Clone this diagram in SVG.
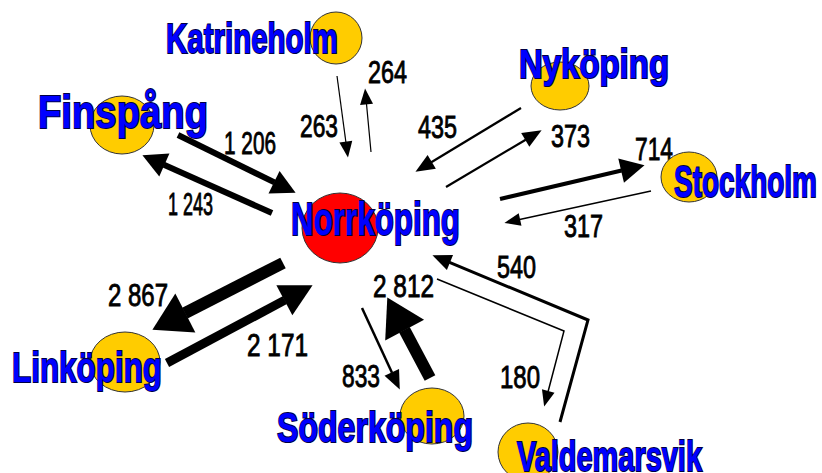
<svg xmlns="http://www.w3.org/2000/svg" width="822" height="473" viewBox="0 0 822 473">
<style>
.bg{fill:#fff}
.city{fill:#ffcc00;stroke:#333;stroke-width:1}
.hub{fill:#ff0000;stroke:#333;stroke-width:1}
.lbl{font-family:"Liberation Sans",Arial,sans-serif;font-weight:bold;fill:#0000ff;stroke:#000044;stroke-width:2;paint-order:stroke}
.num{font-family:"Liberation Sans",Arial,sans-serif;font-size:32px;fill:#000;stroke:#000;stroke-width:0.9}
.ln{fill:none;stroke:#000;stroke-linejoin:miter;stroke-linecap:butt}
</style>
<defs>
<marker id="a1" markerUnits="userSpaceOnUse" markerWidth="16" markerHeight="13" refX="0.5" refY="6.5" orient="auto" overflow="visible"><path d="M0,0 L16,6.5 L0,13 z" fill="#000"/></marker>
<marker id="a2" markerUnits="userSpaceOnUse" markerWidth="19" markerHeight="16" refX="0.5" refY="8" orient="auto" overflow="visible"><path d="M0,0 L19,8 L0,16 z" fill="#000"/></marker>
<marker id="a3" markerUnits="userSpaceOnUse" markerWidth="24" markerHeight="25" refX="0.5" refY="12.5" orient="auto" overflow="visible"><path d="M0,0 L24,12.5 L0,25 z" fill="#000"/></marker>
<marker id="a4" markerUnits="userSpaceOnUse" markerWidth="32" markerHeight="34" refX="0.5" refY="17" orient="auto" overflow="visible"><path d="M0,0 L32,17 L0,34 z" fill="#000"/></marker>
<marker id="a5" markerUnits="userSpaceOnUse" markerWidth="37" markerHeight="44" refX="0.5" refY="22" orient="auto" overflow="visible"><path d="M0,0 L37,22 L0,44 z" fill="#000"/></marker>
</defs>
<rect class="bg" x="0" y="0" width="822" height="473"/>
<g id="connectors">
<path class="ln" d="M337,76 L345.9,142.1" stroke-width="1.2" marker-end="url(#a1)"/>
<path class="ln" d="M371,152 L366.5,103.9" stroke-width="1.2" marker-end="url(#a1)"/>
<path class="ln" d="M178,135 L274.5,182.4" stroke-width="6" marker-end="url(#a3)"/>
<path class="ln" d="M272,213 L163.9,164.8" stroke-width="6" marker-end="url(#a3)"/>
<path class="ln" d="M521,108 L431.3,162.2" stroke-width="2.2" marker-end="url(#a2)"/>
<path class="ln" d="M446,187 L525.7,139.7" stroke-width="2.2" marker-end="url(#a2)"/>
<path class="ln" d="M500,199 L621.6,170.5" stroke-width="4" marker-end="url(#a3)"/>
<path class="ln" d="M651,191 L519.6,219.6" stroke-width="1.5" marker-end="url(#a1)"/>
<path class="ln" d="M283,263 L184.9,313.2" stroke-width="12" marker-end="url(#a5)"/>
<path class="ln" d="M167,363 L284.8,300.1" stroke-width="9" marker-end="url(#a4)"/>
<path class="ln" d="M430,378 L404.4,329.7" stroke-width="12" marker-end="url(#a5)"/>
<path class="ln" d="M362,308 L392,372.8" stroke-width="2.5" marker-end="url(#a2)"/>
<path class="ln" d="M560,422 L588,320 L449.5,262.3" stroke-width="3" marker-end="url(#a2)"/>
<path class="ln" d="M437,279 L564,331 L548.1,391.5" stroke-width="1.5" marker-end="url(#a1)"/>
</g>
<g id="labels">
<text class="num" x="368" y="83" textLength="39" lengthAdjust="spacingAndGlyphs">264</text>
<text class="num" x="300" y="137" textLength="38" lengthAdjust="spacingAndGlyphs">263</text>
<text class="num" x="224" y="154" textLength="52" lengthAdjust="spacingAndGlyphs">1 206</text>
<text class="num" x="168" y="215" textLength="45" lengthAdjust="spacingAndGlyphs">1 243</text>
<text class="num" x="418" y="138" textLength="39" lengthAdjust="spacingAndGlyphs">435</text>
<text class="num" x="551" y="147" textLength="39" lengthAdjust="spacingAndGlyphs">373</text>
<text class="num" x="635" y="160" textLength="38" lengthAdjust="spacingAndGlyphs">714</text>
<text class="num" x="564" y="237" textLength="39" lengthAdjust="spacingAndGlyphs">317</text>
<text class="num" x="108" y="306" textLength="60" lengthAdjust="spacingAndGlyphs">2 867</text>
<text class="num" x="247" y="356" textLength="61" lengthAdjust="spacingAndGlyphs">2 171</text>
<text class="num" x="373" y="297" textLength="61" lengthAdjust="spacingAndGlyphs">2 812</text>
<text class="num" x="342" y="387" textLength="38" lengthAdjust="spacingAndGlyphs">833</text>
<text class="num" x="497" y="278" textLength="39" lengthAdjust="spacingAndGlyphs">540</text>
<text class="num" x="500" y="388" textLength="40" lengthAdjust="spacingAndGlyphs">180</text>
</g>
<g id="katrineholm">
<ellipse class="city" cx="336" cy="38" rx="26" ry="26"/>
<text class="lbl" x="166" y="53" font-size="43" textLength="172" lengthAdjust="spacingAndGlyphs">Katrineholm</text>
</g>
<g id="finspang">
<ellipse class="city" cx="122" cy="125" rx="32" ry="29"/>
<text class="lbl" x="38" y="128" font-size="46" textLength="170" lengthAdjust="spacingAndGlyphs">Finspång</text>
</g>
<g id="nykoping">
<ellipse class="city" cx="560" cy="86" rx="29" ry="24"/>
<text class="lbl" x="519" y="78" font-size="40" textLength="150" lengthAdjust="spacingAndGlyphs">Nyköping</text>
</g>
<g id="stockholm">
<ellipse class="city" cx="689" cy="177" rx="28" ry="25"/>
<text class="lbl" x="674" y="197" font-size="45" textLength="143" lengthAdjust="spacingAndGlyphs">Stockholm</text>
</g>
<g id="norrkoping">
<ellipse class="hub" cx="340" cy="228" rx="38" ry="35"/>
<text class="lbl" x="291" y="235" font-size="46" textLength="169" lengthAdjust="spacingAndGlyphs">Norrköping</text>
</g>
<g id="linkoping">
<ellipse class="city" cx="125" cy="362" rx="35" ry="30"/>
<text class="lbl" x="12" y="382" font-size="43" textLength="150" lengthAdjust="spacingAndGlyphs">Linköping</text>
</g>
<g id="soderkoping">
<ellipse class="city" cx="432" cy="416" rx="32" ry="28"/>
<text class="lbl" x="277" y="442" font-size="42" textLength="196" lengthAdjust="spacingAndGlyphs">Söderköping</text>
</g>
<g id="valdemarsvik">
<ellipse class="city" cx="528" cy="452" rx="30" ry="29"/>
<text class="lbl" x="517" y="471" font-size="43" textLength="185" lengthAdjust="spacingAndGlyphs">Valdemarsvik</text>
</g>
</svg>
